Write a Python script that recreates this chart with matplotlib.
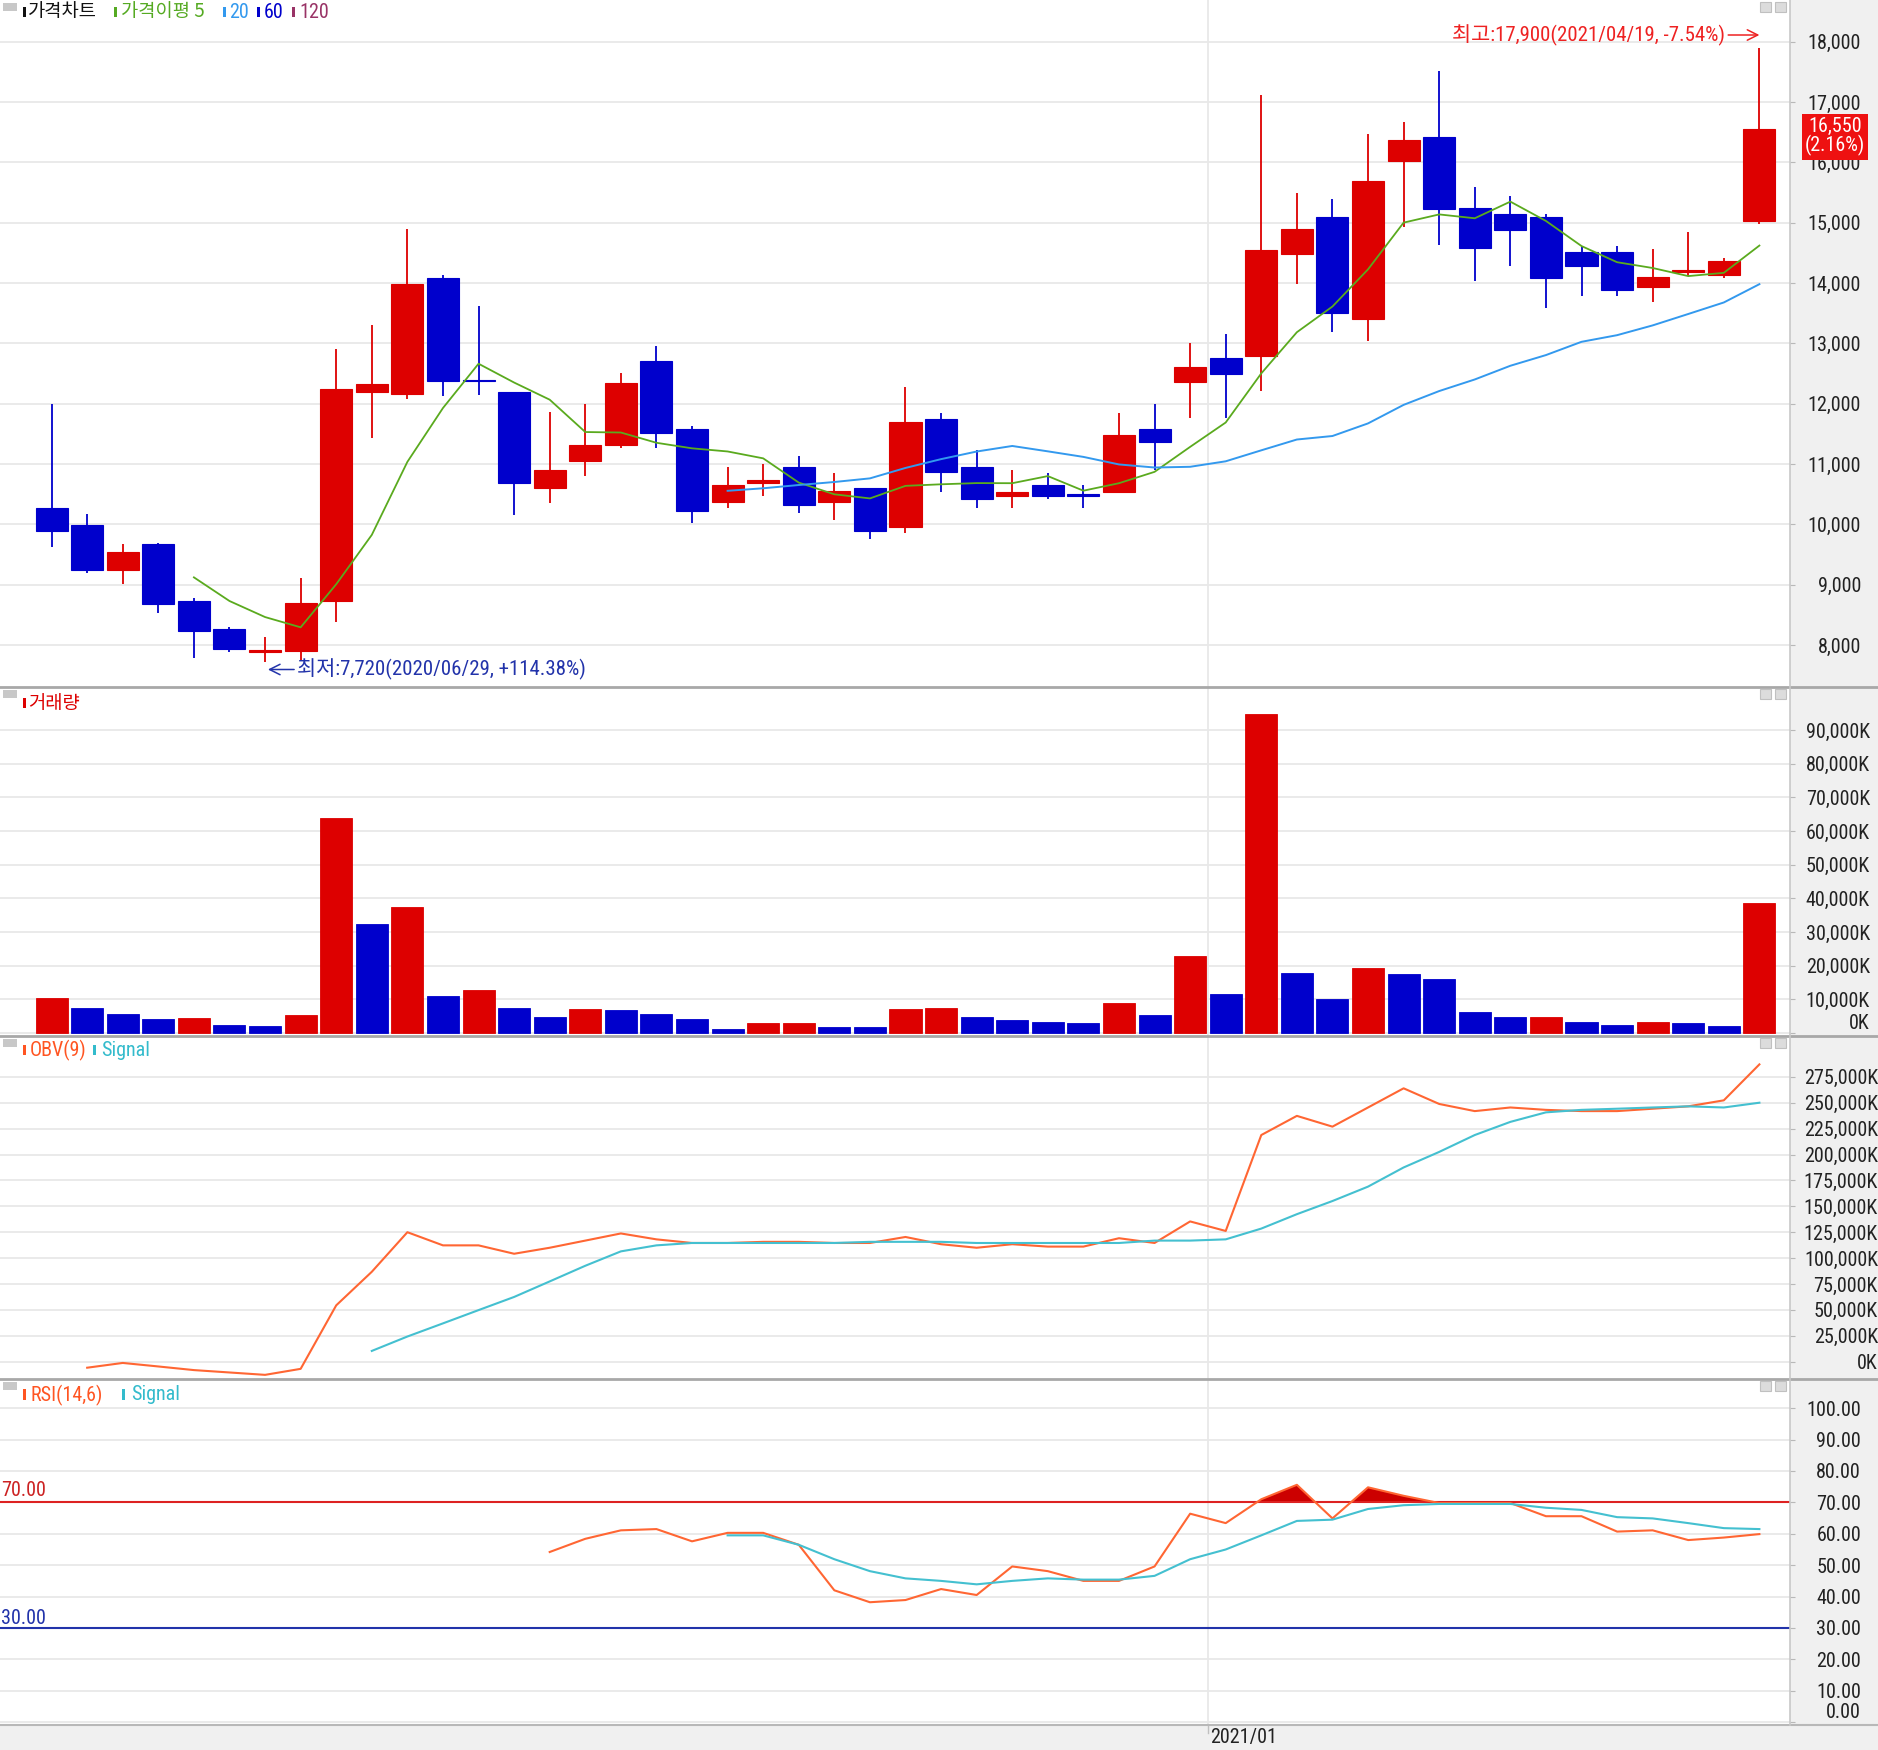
import matplotlib
matplotlib.use('Agg')
import matplotlib.pyplot as plt
import numpy as np
from matplotlib import font_manager
from matplotlib.patches import Rectangle
from matplotlib.lines import Line2D

# weekly candles, 2020/05/18 .. 2021/04/19
opens = [10270, 9990, 9250, 9670, 8730, 8260, 7880, 7910, 8730, 12200,
         12170, 14080, 12390, 12200, 10600, 11050, 11320, 12710, 11590, 10380,
         10680, 10950, 10380, 10600, 9960, 11740, 10950, 10480, 10650, 10500,
         10530, 11590, 12360, 12760, 12800, 14490, 15100, 13400, 16030, 16420,
         15250, 15150, 15100, 14510, 14510, 13940, 14180, 14140, 15030]
highs = [12000, 10170, 9670, 9690, 8780, 8300, 8140, 9120, 12900, 13300,
         14900, 14130, 13620, 12200, 11860, 12000, 12510, 12960, 11630, 10950,
         11000, 11140, 10850, 10600, 12280, 11840, 11240, 10900, 10850, 10650,
         11840, 11990, 13000, 13160, 17110, 15490, 15400, 16470, 16670, 17510,
         15600, 15450, 15150, 14610, 14610, 14560, 14850, 14410, 17900]
lows = [9620, 9200, 9010, 8540, 7790, 7880, 7720, 7760, 8380, 11430,
        12080, 12130, 12150, 10150, 10350, 10800, 11270, 11270, 10030, 10280,
        10480, 10190, 10080, 9760, 9860, 10530, 10280, 10280, 10430, 10280,
        10530, 10900, 11770, 11760, 12220, 13990, 13190, 13040, 14930, 14630,
        14040, 14290, 13590, 13790, 13790, 13690, 14120, 14080, 14980]
closes = [9900, 9250, 9550, 8680, 8240, 7940, 7920, 8700, 12250, 12330,
          13990, 12380, 12370, 10690, 10910, 11310, 12340, 11520, 10230, 10650,
          10740, 10330, 10550, 9890, 11690, 10870, 10430, 10540, 10480, 10480,
          11490, 11370, 12610, 12500, 14550, 14900, 13500, 15690, 16370, 15230,
          14580, 14880, 14090, 14290, 13890, 14100, 14210, 14360, 16550]

ma5 = [9124, 8732, 8466, 8296, 9010, 9828, 11038, 11930, 12664, 12352,
       12068, 11532, 11524, 11354, 11262, 11210, 11096, 10694, 10500, 10432,
       10640, 10666, 10686, 10684, 10802, 10560, 10684, 10872, 11286, 11690,
       12504, 13186, 13612, 14228, 15002, 15138, 15074, 15350, 15030, 14614,
       14346, 14250, 14116, 14170, 14622]
ma20 = [10558, 10600, 10654, 10704, 10764, 10937, 11083, 11209, 11301, 11212,
        11120, 10995, 10944, 10956, 11047, 11229, 11408, 11466, 11675, 11982,
        12211, 12403, 12630, 12807, 13027, 13137, 13299, 13488, 13679, 13982]

# volume in K
volume = [10400, 7500, 5700, 4300, 4500, 2500, 2200, 5400, 63800, 32300,
          37300, 11100, 12900, 7500, 4700, 7200, 6800, 5700, 4300, 1100,
          2900, 3000, 1800, 1800, 7200, 7500, 4700, 3900, 3200, 2900,
          9000, 5400, 22900, 11500, 94600, 17900, 10000, 19400, 17600, 16100,
          6100, 4700, 4900, 3200, 2500, 3200, 2900, 2200, 38700]

obv = [-5800, -1200, -4600, -8100, -10400, -12700, -6900, 54400, 86800, 125000,
       112300, 112300, 104200, 110000, 116900, 123800, 118100, 114600, 114600, 115700,
       115700, 114600, 114600, 120400, 113400, 110000, 113400, 111100, 111100, 119200,
       114600, 135400, 126200, 218800, 237300, 226900, 245400, 263900, 248800, 241900,
       245400, 243100, 241900, 241900, 244200, 246500, 252300, 287000]
obv_signal = [10400, 24300, 37000, 49800, 62500, 77500, 92600, 106500, 112300, 114600,
              114600, 114600, 114600, 114600, 115700, 115700, 115700, 114600, 114600, 114600,
              114600, 114600, 116900, 116900, 118100, 128500, 142400, 155100, 169000, 187500,
              202500, 218800, 231500, 240700, 243100, 244200, 245400, 246500, 245400, 250000]

rsi = [54.2, 58.4, 61.1, 61.5, 57.6, 60.3, 60.3, 56.5, 42.0, 38.2,
       38.9, 42.4, 40.5, 49.6, 48.1, 45.0, 45.0, 49.6, 66.4, 63.4,
       71.0, 75.6, 64.9, 74.8, 72.1, 69.8, 69.8, 69.8, 65.6, 65.6,
       60.7, 61.1, 58.0, 58.8, 59.9]
rsi_signal = [59.5, 59.5, 56.5, 51.9, 48.1, 45.8, 45.0, 43.9, 45.0, 45.8,
              45.4, 45.4, 46.6, 51.9, 55.0, 59.5, 64.1, 64.5, 67.9, 69.1,
              69.5, 69.5, 69.5, 68.3, 67.6, 65.3, 64.9, 63.4, 61.8, 61.5]

price_ticks = list(range(8000, 18001, 1000))
vol_ticks = list(range(0, 90001, 10000))
obv_ticks = list(range(0, 275001, 25000))
rsi_ticks = list(range(0, 101, 10))
month_pos = 32.5
month_label = '2021/01'

W, H = 1878, 1750
RED = '#dd0000'
BLUE = '#0000cc'

# narrow face for the numbers, Korean face for hangul
names = {f.name for f in font_manager.fontManager.ttflist}
NUM = 'DejaVu Sans'
for cand in ['Liberation Sans Narrow', 'Roboto Condensed', 'Archivo Narrow',
             'PT Sans Narrow', 'Asap Condensed', 'Barlow Semi Condensed']:
    if cand in names:
        NUM = cand
        break
KR = 'Noto Sans CJK KR'
plt.rcParams['font.family'] = [NUM, KR, 'DejaVu Sans']
NS = 14.5 if NUM != 'DejaVu Sans' else 11

fig = plt.figure(figsize=(W / 100, H / 100), dpi=100, facecolor='#f0f0f0')
idx = np.arange(len(closes))


def tail_x(series):
    return idx[len(idx) - len(series):]


def ftext(x, y, s, **kw):
    fig.text(x / W, 1 - y / H, s, va='center', **kw)


def fbox(x, y, w, h, color, ec='none'):
    fig.add_artist(Rectangle((x / W, 1 - (y + h) / H), w / W, h / H,
                             transform=fig.transFigure, fc=color, ec=ec, lw=0.8))


def panel(y0, y1, ylim, ticks, labels, label_right, lift_zero=False):
    ax = fig.add_axes([0, 1 - y1 / H, 1790 / W, (y1 - y0) / H])
    ax.set_facecolor('white')
    for s in ax.spines.values():
        s.set_visible(False)
    ax.set_xlim(-1.45, 48.86)
    ax.set_ylim(*ylim)
    ax.tick_params(axis='x', bottom=False, labelbottom=False)
    ax.yaxis.tick_right()
    pad = (label_right - 1790 - 5) * 0.72
    ax.tick_params(axis='y', length=3.6, color='#b8b8b8', labelsize=NS,
                   labelcolor='#222222', pad=pad)
    ax.set_yticks(ticks, labels=labels, ha='right')
    if lift_zero:
        # the zero label sits just above its tick
        ax.get_yticklabels()[0].set_va('bottom')
    ax.grid(axis='y', color='#e8e8e8', lw=1.3)
    ax.axvline(month_pos, color='#e8e8e8', lw=1.3, zorder=0)
    ax.set_axisbelow(True)
    # little window buttons
    for bx in (1760, 1775):
        fbox(bx, y0 + 2, 11, 10, '#dcdcdc', ec='#c0c0c0')
    fbox(3, y0 + 3, 14, 8, '#c8c8c8')
    return ax


# ---- price panel
ax1 = panel(0, 687, (7307, 18691), price_ticks, [f'{v:,}' for v in price_ticks], 1861)
up = np.array(closes) >= np.array(opens)
ccol = np.where(up, RED, BLUE)
ax1.vlines(idx, lows, highs, colors=ccol, lw=1.3, zorder=2)
body_lo = np.minimum(opens, closes)
body_h = np.abs(np.array(closes) - np.array(opens))
ax1.bar(idx, body_h, bottom=body_lo, width=0.9, color=ccol, edgecolor=ccol, lw=0.8, zorder=3)
ax1.plot(tail_x(ma5), ma5, color='#5aaa1e', lw=1.3, zorder=4)
ax1.plot(tail_x(ma20), ma20, color='#3399ee', lw=1.4, zorder=4)

arrow = '->,head_length=0.5,head_width=0.25'
ax1.annotate('최고:17,900(2021/04/19, -7.54%)', xy=(idx[-1], 18111), xytext=(-34, 0),
             textcoords='offset pixels', ha='right', va='center', color='#ee2222', fontsize=15,
             arrowprops=dict(arrowstyle=arrow, color='#ee2222', lw=1.1, shrinkA=0, shrinkB=0))
low_i = int(np.argmin(lows))
ax1.annotate('최저:7,720(2020/06/29, +114.38%)', xy=(low_i + 0.08, 7597), xytext=(29, 0),
             textcoords='offset pixels', ha='left', va='center', color='#2233aa', fontsize=15,
             arrowprops=dict(arrowstyle=arrow, color='#2233aa', lw=1.1, shrinkA=0, shrinkB=0))
ax1.text(1835 / 1790, closes[-1] - 120, f'{closes[-1]:,}\n(2.16%)', transform=ax1.get_yaxis_transform(),
         ha='center', va='center', color='white', fontsize=NS, linespacing=1.0, clip_on=False,
         zorder=10, bbox=dict(boxstyle='square,pad=0.15', fc='#ee1111', ec='none'))

fbox(23, 7, 3, 10, '#111111')
ftext(28, 12, '가격차트', color='#111111', fontsize=13.5, family=[KR])
fbox(114, 7, 3, 10, '#55aa22')
ftext(121, 12, '가격이평 5', color='#55aa22', fontsize=13.5, family=[KR])
fbox(223, 7, 3, 10, '#3399ee')
ftext(229, 12, '20', color='#3399ee', fontsize=NS)
fbox(257, 7, 3, 10, '#0000cc')
ftext(264, 12, '60', color='#0000cc', fontsize=NS)
fbox(292, 7, 3, 10, '#993366')
ftext(299, 12, '120', color='#993366', fontsize=NS)

# ---- volume panel
ax2 = panel(687, 1036, (-890, 102760), vol_ticks, [f'{v:,}K' for v in vol_ticks], 1870, lift_zero=True)
vcol = [RED] + [RED if volume[i] > volume[i - 1] else BLUE for i in range(1, len(volume))]
ax2.bar(idx, volume, width=0.9, color=vcol, edgecolor=vcol, lw=0.6, zorder=3)
fbox(23, 698, 3, 10, RED)
ftext(28, 703, '거래량', color=RED, fontsize=13.5, family=[KR])

# ---- OBV panel
ax3 = panel(1036, 1379, (-16700, 314400), obv_ticks, [f'{v:,}K' for v in obv_ticks], 1878)
ax3.plot(tail_x(obv), obv, color='#ff6633', lw=1.5, zorder=4)
ax3.plot(tail_x(obv_signal), obv_signal, color='#44c0d0', lw=1.5, zorder=4)
fbox(23, 1045, 3, 10, '#ff5522')
ftext(30, 1050, 'OBV(9)', color='#ff5522', fontsize=NS)
fbox(93, 1045, 3, 10, '#33bbcc')
ftext(101, 1050, 'Signal', color='#33bbcc', fontsize=NS)

# ---- RSI panel
ax4 = panel(1379, 1725, (-0.9, 109.3), rsi_ticks, [f'{v:.2f}' for v in rsi_ticks], 1861, lift_zero=True)
rx = tail_x(rsi)
ra = np.array(rsi)
ax4.fill_between(rx, ra, 70, where=ra > 70, interpolate=True, color='#cc0000', lw=0, zorder=3)
ax4.axhline(70, color='#dd2222', lw=1.5, zorder=3)
ax4.axhline(30, color='#2233aa', lw=1.5, zorder=3)
ax4.plot(rx, rsi, color='#ff6633', lw=1.5, zorder=4)
ax4.plot(tail_x(rsi_signal), rsi_signal, color='#44c0d0', lw=1.5, zorder=4)
ftext(1, 1491, '70.00', color='#cc2222', fontsize=NS)
ftext(1, 1618, '30.00', color='#2233aa', fontsize=NS)
fbox(23, 1389, 3, 11, '#ff5522')
ftext(31, 1395, 'RSI(14,6)', color='#ff5522', fontsize=NS)
fbox(122, 1389, 3, 11, '#33bbcc')
ftext(131, 1395, 'Signal', color='#33bbcc', fontsize=NS)

# ---- frame lines and date axis
for yy in (687, 1036, 1379):
    fig.add_artist(Line2D([0, 1], [1 - yy / H] * 2, transform=fig.transFigure, color='#a8a8a8', lw=2))
fig.add_artist(Line2D([0, 1], [1 - 1725 / H] * 2, transform=fig.transFigure, color='#b8b8b8', lw=1.5))
fig.add_artist(Line2D([1790 / W] * 2, [1 - 1725 / H, 1], transform=fig.transFigure, color='#c8c8c8', lw=1.2))
mx = ax4.transData.transform((month_pos, 0))[0]
fig.add_artist(Line2D([mx / W] * 2, [1 - 1733 / H, 1 - 1726 / H], transform=fig.transFigure, color='#c0c0c0', lw=1))
fig.text(mx / W + 2 / W, 1 - 1738 / H, month_label, va='center', ha='left', fontsize=NS, color='#222222')

fig.savefig('out.png', dpi=100, facecolor=fig.get_facecolor())
